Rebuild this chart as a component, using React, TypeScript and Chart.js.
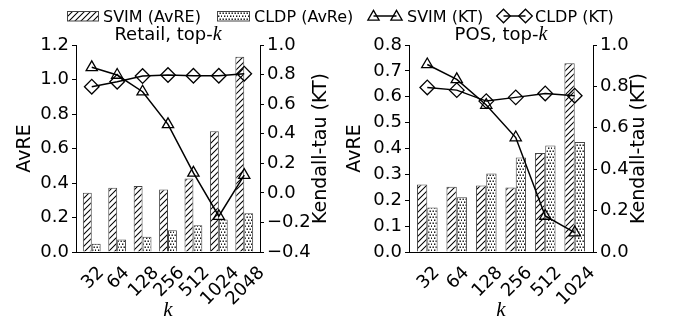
import React, { useEffect, useRef } from 'react';
import { Chart, registerables } from 'chart.js';
Chart.register(...registerables);

const FONT = 'DejaVu Sans';
const MATH = 'Liberation Serif';

// Retail, top-k
const retailK = ['32', '64', '128', '256', '512', '1024', '2048'];
const retailSvimAvre = [0.344, 0.373, 0.383, 0.362, 0.426, 0.70, 1.132];
const retailCldpAvre = [0.048, 0.072, 0.089, 0.126, 0.155, 0.188, 0.224];
const retailSvimKt = [0.849, 0.797, 0.684, 0.463, 0.135, -0.158, 0.12];
const retailCldpKt = [0.718, 0.752, 0.79, 0.797, 0.792, 0.792, 0.806];

// POS, top-k
const posK = ['32', '64', '128', '256', '512', '1024'];
const posSvimAvre = [0.261, 0.252, 0.257, 0.249, 0.383, 0.729];
const posCldpAvre = [0.172, 0.212, 0.303, 0.365, 0.412, 0.425];
const posSvimKt = [0.906, 0.834, 0.71, 0.553, 0.174, 0.094];
const posCldpKt = [0.795, 0.782, 0.729, 0.747, 0.766, 0.755];

function makeHatch(): CanvasPattern {
  const c = document.createElement('canvas');
  c.width = 6; c.height = 6;
  const g = c.getContext('2d')!;
  g.fillStyle = '#fff'; g.fillRect(0, 0, 6, 6);
  g.strokeStyle = '#000'; g.lineWidth = 1.05;
  g.beginPath();
  g.moveTo(-1, 7); g.lineTo(7, -1);
  g.moveTo(-1, 1); g.lineTo(1, -1);
  g.moveTo(5, 7); g.lineTo(7, 5);
  g.stroke();
  return g.createPattern(c, 'repeat')!;
}

function makeDots(): CanvasPattern {
  const c = document.createElement('canvas');
  c.width = 6; c.height = 6;
  const g = c.getContext('2d')!;
  g.fillStyle = '#fff'; g.fillRect(0, 0, 6, 6);
  g.fillStyle = '#000';
  g.fillRect(0.5, 0.5, 1.4, 1.4);
  g.fillRect(3.5, 0.5, 1.4, 1.4);
  g.fillRect(2, 3.5, 1.4, 1.4);
  g.fillRect(5, 3.5, 1.4, 1.4);
  return g.createPattern(c, 'repeat')!;
}

const fmt = (v: any) => {
  const n = Number(v);
  return (Math.abs(n) < 1e-9 ? 0 : n).toFixed(1).replace('-', '\u2212');
};

type PanelProps = {
  left: number; width: number;
  labels: string[]; svimAvre: number[]; cldpAvre: number[]; svimKt: number[]; cldpKt: number[];
  yMax: number; yStep: number; y1Min: number; y1Max: number; y1Step: number;
  leftW: number; rightW: number; yTitlePad: number; rTitleX: number;
};

function Panel(p: PanelProps) {
  const ref = useRef<HTMLCanvasElement | null>(null);
  useEffect(() => {
    const canvas = ref.current!;
    const hatch = makeHatch();
    const dots = makeDots();
    const n = p.labels.length;
    const xy = (arr: number[]) => arr.map((v, i) => ({ x: i, y: v }));
    const overlay = {
      id: 'overlay',
      afterDraw(chart: any) {
        const ctx = chart.ctx as CanvasRenderingContext2D;
        const xs = chart.scales.x;
        ctx.save();
        ctx.fillStyle = '#000';
        ctx.font = `18px "${FONT}"`;
        const capH = 0.729 * 18;
        p.labels.forEach((lab, i) => {
          const px = xs.getPixelForValue(i);
          const w = ctx.measureText(lab).width;
          const bh = (w + capH) * Math.SQRT1_2;
          ctx.save();
          ctx.translate(px, 264 + bh / 2);
          ctx.rotate(-Math.PI / 4);
          ctx.textAlign = 'center';
          ctx.textBaseline = 'alphabetic';
          ctx.fillText(lab, 0, capH / 2);
          ctx.restore();
        });
        const a = chart.chartArea;
        ctx.save();
        ctx.translate(p.rTitleX, (a.top + a.bottom) / 2);
        ctx.rotate(-Math.PI / 2);
        ctx.font = `19px "${FONT}"`;
        ctx.textAlign = 'center';
        ctx.textBaseline = 'middle';
        ctx.fillText('Kendall-tau (KT)', 0, 0);
        ctx.restore();
        ctx.restore();
      },
    };
    const tickFont = { family: FONT, size: 18 };
    const chart = new Chart(canvas, {
      type: 'bar',
      data: {
        datasets: [
          { type: 'bar', label: 'SVIM (AvRE)', data: xy(p.svimAvre), backgroundColor: hatch, borderColor: '#444', borderWidth: 1, yAxisID: 'y', order: 2, categoryPercentage: 0.7, barPercentage: 1 } as any,
          { type: 'bar', label: 'CLDP (AvRe)', data: xy(p.cldpAvre), backgroundColor: dots, borderColor: '#444', borderWidth: 1, yAxisID: 'y', order: 2, categoryPercentage: 0.7, barPercentage: 1 } as any,
          { type: 'line', label: 'SVIM (KT)', data: xy(p.svimKt), yAxisID: 'y1', borderColor: '#000', borderWidth: 1.5, pointStyle: 'triangle', pointRadius: 6.5, pointBorderColor: '#000', pointBorderWidth: 1.3, pointBackgroundColor: 'rgba(0,0,0,0)', order: 1 } as any,
          { type: 'line', label: 'CLDP (KT)', data: xy(p.cldpKt), yAxisID: 'y1', borderColor: '#000', borderWidth: 1.5, pointStyle: 'rectRot', pointRadius: 7.3, pointBorderColor: '#000', pointBorderWidth: 1.3, pointBackgroundColor: 'rgba(0,0,0,0)', order: 1 } as any,
        ],
      },
      options: {
        animation: false,
        responsive: false,
        layout: { padding: { top: 45, left: 0, right: 0, bottom: 0 } },
        plugins: { legend: { display: false }, title: { display: false }, tooltip: { enabled: false } },
        scales: {
          x: {
            type: 'linear', min: -0.62, max: n - 1 + 0.62, offset: false,
            grid: { display: false },
            border: { display: true, color: '#000', width: 1 },
            ticks: { display: false },
            afterBuildTicks: (s: any) => { s.ticks = p.labels.map((_, i) => ({ value: i })); },
            afterFit: (s: any) => { s.height = 73; },
            title: { display: true, text: 'k', color: '#000', font: { family: MATH, style: 'italic', size: 21 }, padding: { top: 0, bottom: 2 } },
          },
          y: {
            type: 'linear', position: 'left', min: 0, max: p.yMax,
            ticks: { stepSize: p.yStep, color: '#000', font: tickFont, padding: 3, callback: fmt },
            grid: { drawOnChartArea: false, color: '#000', tickLength: 4, lineWidth: 1 },
            border: { display: true, color: '#000', width: 1 },
            title: { display: true, text: 'AvRE', color: '#000', font: { family: FONT, size: 19 }, padding: { top: p.yTitlePad, bottom: 0 } },
            afterFit: (s: any) => { s.width = p.leftW; },
          },
          y1: {
            type: 'linear', position: 'right', min: p.y1Min, max: p.y1Max,
            ticks: { stepSize: p.y1Step, color: '#000', font: tickFont, padding: 3, callback: fmt },
            grid: { drawOnChartArea: false, color: '#000', tickLength: 4, lineWidth: 1 },
            border: { display: true, color: '#000', width: 1 },
            afterFit: (s: any) => { s.width = p.rightW; },
          },
        },
      } as any,
      plugins: [overlay],
    });
    return () => chart.destroy();
  }, []);
  return (
    <canvas ref={ref} width={p.width} height={325}
      style={{ position: 'absolute', left: p.left, top: 0, width: p.width, height: 325 }} />
  );
}

function Legend() {
  const txt: React.CSSProperties = { position: 'absolute', top: 7, fontFamily: FONT, fontSize: 16, lineHeight: 'normal', whiteSpace: 'nowrap', color: '#000' };
  const tri = (cx: number, cy: number) => {
    const r = 6.5;
    return `${cx},${cy - r * 0.75 - 0.8} ${cx + r * 0.866},${cy + r * 0.75 - 0.8} ${cx - r * 0.866},${cy + r * 0.75 - 0.8}`;
  };
  const dia = (cx: number, cy: number) => {
    const r = 6.8;
    return `${cx - r},${cy} ${cx},${cy - r} ${cx + r},${cy} ${cx},${cy + r}`;
  };
  return (
    <>
      <svg width={673} height={30} style={{ position: 'absolute', left: 0, top: 0 }}>
        <defs>
          <pattern id="hp" patternUnits="userSpaceOnUse" width="6" height="6">
            <rect width="6" height="6" fill="#fff" />
            <path d="M-1,7 L7,-1 M-1,1 L1,-1 M5,7 L7,5" stroke="#000" strokeWidth="1.05" />
          </pattern>
          <pattern id="dp" patternUnits="userSpaceOnUse" width="6" height="6">
            <rect width="6" height="6" fill="#fff" />
            <rect x="0.5" y="0.5" width="1.4" height="1.4" fill="#000" />
            <rect x="3.5" y="0.5" width="1.4" height="1.4" fill="#000" />
            <rect x="2" y="3.5" width="1.4" height="1.4" fill="#000" />
            <rect x="5" y="3.5" width="1.4" height="1.4" fill="#000" />
          </pattern>
        </defs>
        <rect x={67.5} y={11.5} width={31} height={9.5} fill="url(#hp)" stroke="#444" strokeWidth={1} />
        <rect x={217.5} y={11.5} width={32} height={9.5} fill="url(#dp)" stroke="#444" strokeWidth={1} />
        <line x1={373.5} y1={16} x2={396.5} y2={16} stroke="#000" strokeWidth={1.5} />
        <polygon points={tri(373.5, 16)} fill="none" stroke="#000" strokeWidth={1.3} />
        <polygon points={tri(396.5, 16)} fill="none" stroke="#000" strokeWidth={1.3} />
        <line x1={503.5} y1={16} x2={525.5} y2={16} stroke="#000" strokeWidth={1.5} />
        <polygon points={dia(503.5, 16)} fill="none" stroke="#000" strokeWidth={1.3} />
        <polygon points={dia(525.5, 16)} fill="none" stroke="#000" strokeWidth={1.3} />
      </svg>
      <span style={{ ...txt, left: 103 }}>SVIM (AvRE)</span>
      <span style={{ ...txt, left: 254 }}>CLDP (AvRe)</span>
      <span style={{ ...txt, left: 407 }}>SVIM (KT)</span>
      <span style={{ ...txt, left: 535 }}>CLDP (KT)</span>
    </>
  );
}

function PlotTitle({ text, center }: { text: string; center: number }) {
  return (
    <div style={{ position: 'absolute', left: center - 150, width: 300, top: 22, textAlign: 'center', fontFamily: FONT, fontSize: 18, lineHeight: 'normal', whiteSpace: 'nowrap', color: '#000' }}>
      {text}<span style={{ fontFamily: MATH, fontStyle: 'italic', fontSize: 20 }}>k</span>
    </div>
  );
}

export default function App() {
  return (
    <div style={{ position: 'fixed', left: 0, top: 0, width: 673, height: 325, background: '#fff', overflow: 'hidden' }}>
      <Panel left={0} width={336} labels={retailK} svimAvre={retailSvimAvre} cldpAvre={retailCldpAvre}
        svimKt={retailSvimKt} cldpKt={retailCldpKt} yMax={1.2} yStep={0.2} y1Min={-0.4} y1Max={1.0} y1Step={0.2}
        leftW={76} rightW={76} yTitlePad={13.6} rTitleX={321} />
      <Panel left={336} width={337} labels={posK} svimAvre={posSvimAvre} cldpAvre={posCldpAvre}
        svimKt={posSvimKt} cldpKt={posCldpKt} yMax={0.8} yStep={0.1} y1Min={0} y1Max={1.0} y1Step={0.2}
        leftW={73} rightW={80} yTitlePad={8.1} rTitleX={303.5} />
      <Legend />
      <PlotTitle text="Retail, top-" center={168} />
      <PlotTitle text="POS, top-" center={501} />
    </div>
  );
}
